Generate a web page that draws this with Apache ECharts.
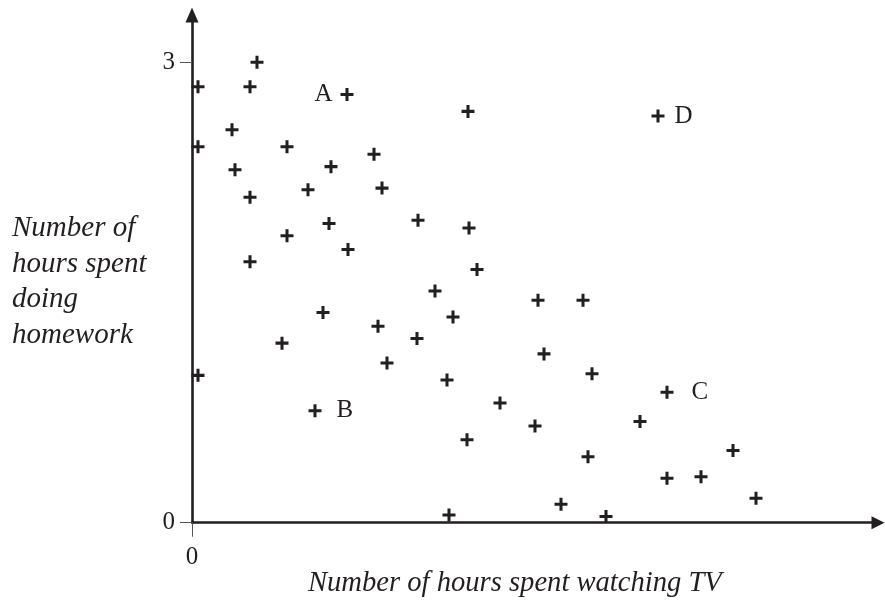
<!DOCTYPE html>
<html>
<head>
<meta charset="utf-8">
<script src="https://cdn.jsdelivr.net/npm/echarts@6/dist/echarts.min.js"></script>
<style>html,body{margin:0;padding:0;background:#fff}#c{width:885px;height:605px}</style>
</head>
<body>
<div id="c"></div>
<script>
// TV hours (x) and homework hours (y)
var tvHours = [0.06,0.65,0.58,1.55,2.76,4.66,0.40,0.06,0.95,1.82,0.43,1.39,1.16,1.90,0.58,2.26,1.37,2.77,0.95,1.56,0.58,2.85,2.43,3.46,3.91,2.61,1.31,1.86,2.25,0.90,3.52,1.95,4.00,0.06,2.55,4.75,3.08,1.23,4.48,3.43,2.75,5.41,3.96,4.75,5.09,5.64,3.69,2.57,4.14];
var homeworkHours = [2.84,3.00,2.84,2.79,2.68,2.65,2.56,2.45,2.45,2.40,2.30,2.32,2.17,2.18,2.12,1.97,1.95,1.92,1.87,1.78,1.70,1.65,1.51,1.45,1.45,1.34,1.37,1.28,1.20,1.17,1.10,1.04,0.97,0.96,0.93,0.85,0.78,0.73,0.66,0.63,0.54,0.47,0.43,0.29,0.30,0.16,0.12,0.05,0.04];
// point labels: index -> letter
var pointLabels = {3:'A', 37:'B', 35:'C', 5:'D'};
var labelSide = {A:'left', B:'right', C:'right', D:'right'};
var labelDist = {A:8, B:15, C:18, D:10};
var yTicks = [0, 3];
var xTicks = [0];

var ink = '#231f20';
var serif = '"Liberation Serif", "DejaVu Serif", serif';
var plus = 'path://M4.6,0H7.4V4.6H12V7.4H7.4V12H4.6V7.4H0V4.6H4.6Z';

var data = tvHours.map(function (x, i) {
  var item = {value: [x, homeworkHours[i]]};
  var L = pointLabels[i];
  if (L) {
    item.label = {show: true, formatter: L, position: labelSide[L], distance: labelDist[L],
      color: ink, fontFamily: serif, fontSize: 25};
  }
  return item;
});

var chart = echarts.init(document.getElementById('c'), null, {renderer: 'canvas'});
chart.setOption({
  animation: false,
  backgroundColor: '#fff',
  grid: {left: 192, top: 15, bottom: 82.3, width: 686, containLabel: false, outerBoundsMode: 'none'},
  xAxis: {
    type: 'value', min: 0, max: 6.86,
    axisLine: {show: true, onZero: false, symbol: ['none', 'triangle'], symbolSize: [13, 13],
      lineStyle: {color: ink, width: 2.6}},
    axisTick: {show: true, customValues: xTicks, length: 14, lineStyle: {color: '#555', width: 1}},
    axisLabel: {show: true, customValues: xTicks, margin: 22, color: ink, fontFamily: serif, fontSize: 25},
    splitLine: {show: false}
  },
  yAxis: {
    type: 'value', min: 0, max: 3.308,
    axisLine: {show: true, onZero: false, symbol: ['none', 'triangle'], symbolSize: [13, 15],
      lineStyle: {color: ink, width: 2.6}},
    axisTick: {show: true, customValues: yTicks, length: 12, lineStyle: {color: '#555', width: 1}},
    axisLabel: {show: true, customValues: yTicks, margin: 17, color: ink, fontFamily: serif, fontSize: 25},
    splitLine: {show: false}
  },
  graphic: [
    {type: 'text', left: 308, top: 569,
      style: {text: 'Number of hours spent watching TV', fill: ink, font: 'italic 28.6px ' + serif}},
    {type: 'text', left: 12, top: 211,
      style: {text: 'Number of\nhours spent\ndoing\nhomework', fill: ink, font: 'italic 29px ' + serif, lineHeight: 35.5}}
  ],
  series: [{
    type: 'scatter',
    symbol: plus,
    symbolSize: 13,
    itemStyle: {color: ink, opacity: 1},
    data: data
  }]
});
</script>
</body>
</html>
